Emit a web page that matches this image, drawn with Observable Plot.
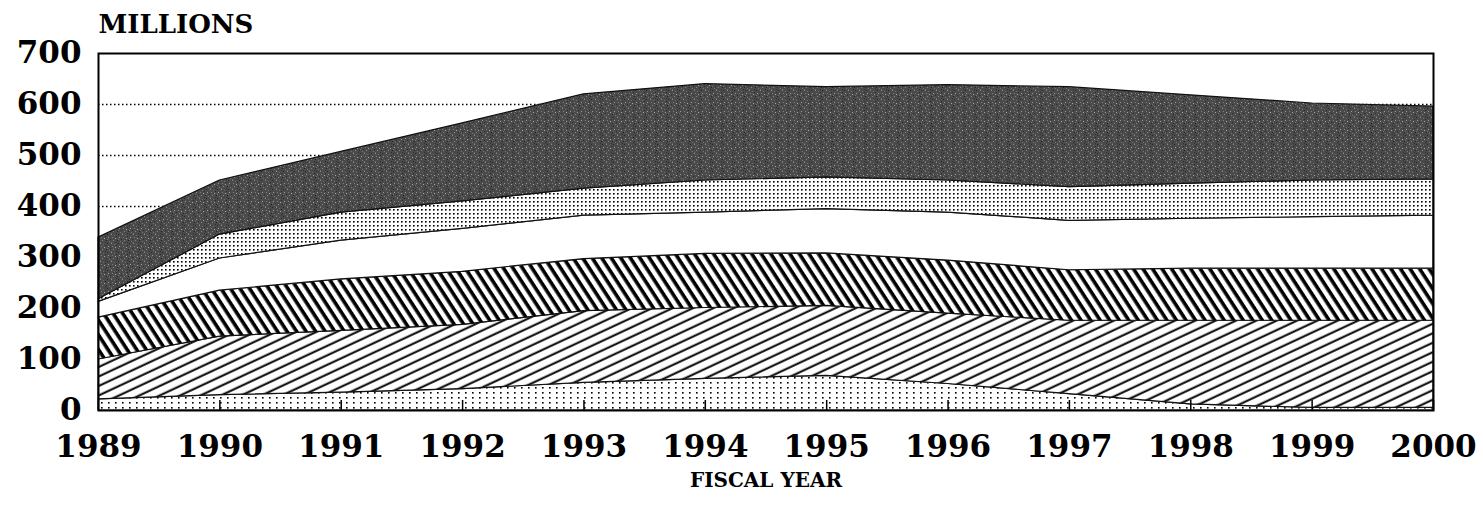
<!DOCTYPE html>
<html><head><meta charset="utf-8">
<script src="https://cdn.jsdelivr.net/npm/d3@7"></script>
<script src="https://cdn.jsdelivr.net/npm/@observablehq/plot@0.6"></script>
<style>body{margin:0;background:#fff} svg{display:block}</style>
</head><body><div id="chart"></div>
<script>
// Fiscal years
const years = [1989, 1990, 1991, 1992, 1993, 1994, 1995, 1996, 1997, 1998, 1999, 2000];
// Stacked layers, bottom to top (millions)
const layerNames = ["Sparse dots", "Forward hatch", "Back hatch", "White", "Dense dots", "Dark"];
const sparseDots   = [22, 30, 35, 42, 54, 62, 68, 52, 32, 12, 5, 5];
const forwardHatch = [78, 115, 121, 126, 141, 139, 137, 138, 144, 164, 171, 171];
const backHatch    = [82, 90, 101, 104, 102, 106, 103, 104, 99, 102, 102, 102];
const whiteBand    = [31, 63, 76, 84, 85, 81, 87, 94, 97, 98, 101, 104];
const denseDots    = [5, 47, 55, 54, 53, 63, 62, 63, 66, 69, 72, 71];
const darkBand     = [121, 106, 119, 153, 185, 189, 177, 187, 196, 173, 151, 143];
const yTicks = [0, 100, 200, 300, 400, 500, 600, 700];
const yTitle = "MILLIONS";
const xTitle = "FISCAL YEAR";

const layerFills = ["url(#pSparse)", "url(#pFwd)", "url(#pBack)", "white", "url(#pDense)", "url(#pDark)"];
const allSeries = [sparseDots, forwardHatch, backHatch, whiteBand, denseDots, darkBand];
const data = [];
allSeries.forEach((vals, i) => years.forEach((yr, j) => data.push({year: yr, layer: layerNames[i], value: vals[j]})));

const plotH = 509 - 53 - 99;

const plot = Plot.plot({
  width: 1483, height: 509,
  marginLeft: 98, marginRight: 50, marginTop: 53, marginBottom: 99,
  style: {fontFamily: "'DejaVu Serif', serif", fontWeight: "bold", fontSize: "31px", color: "black", background: "white"},
  x: {domain: [1989, 2000], ticks: years, tickFormat: d => String(d), tickSize: 0, tickPadding: 24, label: null},
  y: {domain: [0, 700], ticks: yTicks, tickSize: 0, tickPadding: 17, label: null},
  color: {domain: layerNames, range: layerFills},
  marks: [
    Plot.gridY(yTicks.filter(d => d > 0 && d < 700), {stroke: "black", strokeOpacity: 1, strokeWidth: 1.3, strokeDasharray: "1.5,2.5"}),
    Plot.areaY(data, {x: "year", y: "value", z: "layer", fill: "layer", stroke: "#111", strokeWidth: 1.2, curve: "linear"}),
    Plot.tickX(years, {x: d => d, stroke: "black", strokeWidth: 1.5, insetTop: plotH - 10}),
    Plot.frame({stroke: "black", strokeWidth: 2}),
    Plot.text([yTitle], {text: d => d, frameAnchor: "top-left", textAnchor: "start", lineAnchor: "bottom", dy: -21, dx: 0, fontSize: 26, letterSpacing: "1px"}),
    Plot.text([xTitle], {text: d => d, frameAnchor: "bottom", textAnchor: "middle", lineAnchor: "middle", dy: 70, fontSize: 20, letterSpacing: "1px"})
  ]
});

const ns = "http://www.w3.org/2000/svg";
const defs = document.createElementNS(ns, "defs");
defs.innerHTML = `
<pattern id="pSparse" patternUnits="userSpaceOnUse" width="7" height="5">
  <rect width="7" height="5" fill="white"/><rect x="3" y="2" width="1.6" height="1.6" fill="black"/>
</pattern>
<pattern id="pDense" patternUnits="userSpaceOnUse" width="4" height="4">
  <rect width="4" height="4" fill="white"/><rect x="1" y="1" width="1.6" height="1.6" fill="black"/>
</pattern>
<pattern id="pFwd" patternUnits="userSpaceOnUse" width="20" height="8.6" patternTransform="rotate(-25)">
  <rect width="20" height="8.6" fill="white"/><rect y="3.5" width="20" height="2" fill="black"/>
</pattern>
<pattern id="pBack" patternUnits="userSpaceOnUse" width="10" height="8" patternTransform="rotate(57)">
  <rect width="10" height="8" fill="white"/><rect y="2" width="10" height="3.6" fill="black"/>
</pattern>
<pattern id="pDark" patternUnits="userSpaceOnUse" width="11" height="9">
  <rect width="11" height="9" fill="#4a4a4a"/>
  <rect x="1" y="0" width="1" height="1" fill="#8a8a8a"/>
  <rect x="4" y="1" width="1" height="1" fill="#6c6c6c"/>
  <rect x="8" y="0" width="1" height="1" fill="#262626"/>
  <rect x="2" y="3" width="1" height="1" fill="#7e7e7e"/>
  <rect x="6" y="2" width="1" height="1" fill="#2a2a2a"/>
  <rect x="9" y="3" width="1" height="1" fill="#9a9a9a"/>
  <rect x="5" y="4" width="1" height="1" fill="#a5a5a5"/>
  <rect x="0" y="5" width="1" height="1" fill="#2e2e2e"/>
  <rect x="3" y="6" width="1" height="1" fill="#878787"/>
  <rect x="7" y="6" width="1" height="1" fill="#222"/>
  <rect x="10" y="7" width="1" height="1" fill="#767676"/>
  <rect x="1" y="8" width="1" height="1" fill="#6a6a6a"/>
  <rect x="6" y="8" width="1" height="1" fill="#323232"/>
  <rect x="8" y="5" width="1" height="1" fill="#727272"/>
</pattern>`;
plot.prepend(defs);
document.getElementById("chart").appendChild(plot);
</script>
</body></html>
